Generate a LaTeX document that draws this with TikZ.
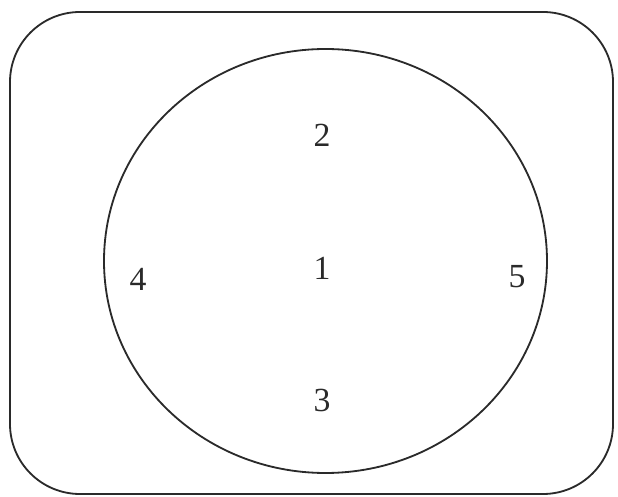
\documentclass[tikz,border=0pt]{standalone}
\usepackage{fontspec}
\setmainfont{Liberation Serif}
\usetikzlibrary{positioning}
\definecolor{ink}{HTML}{2A2A2A}
\tikzset{
    every picture/.style={line cap=round,line join=round},
    frameline/.style={draw=ink,line width=1.3pt,rounded corners=1.75cm},
    zoneline/.style={draw=ink,line width=1.3pt},
    zonelabel/.style={text=ink,inner sep=0pt,font=\fontsize{24}{28}\selectfont}
}
\begin{document}
\begin{tikzpicture}[x=0.025cm,y=-0.025cm]
  \useasboundingbox (0,0) rectangle (618,497);
  \draw[frameline] (10,12) rectangle (613,494);
  \draw[zoneline] (325.5,261) ellipse [x radius=221.5,y radius=212];

  \node[zonelabel] (n1) at (322,268) {1};
  \node[zonelabel] (n2) at (322,135) {2};
  \node[zonelabel] (n3) at (322,400) {3};
  \node[zonelabel] (n4) at (138,279) {4};
  \node[zonelabel] (n5) at (517,277) {5};
\end{tikzpicture}
\end{document}
